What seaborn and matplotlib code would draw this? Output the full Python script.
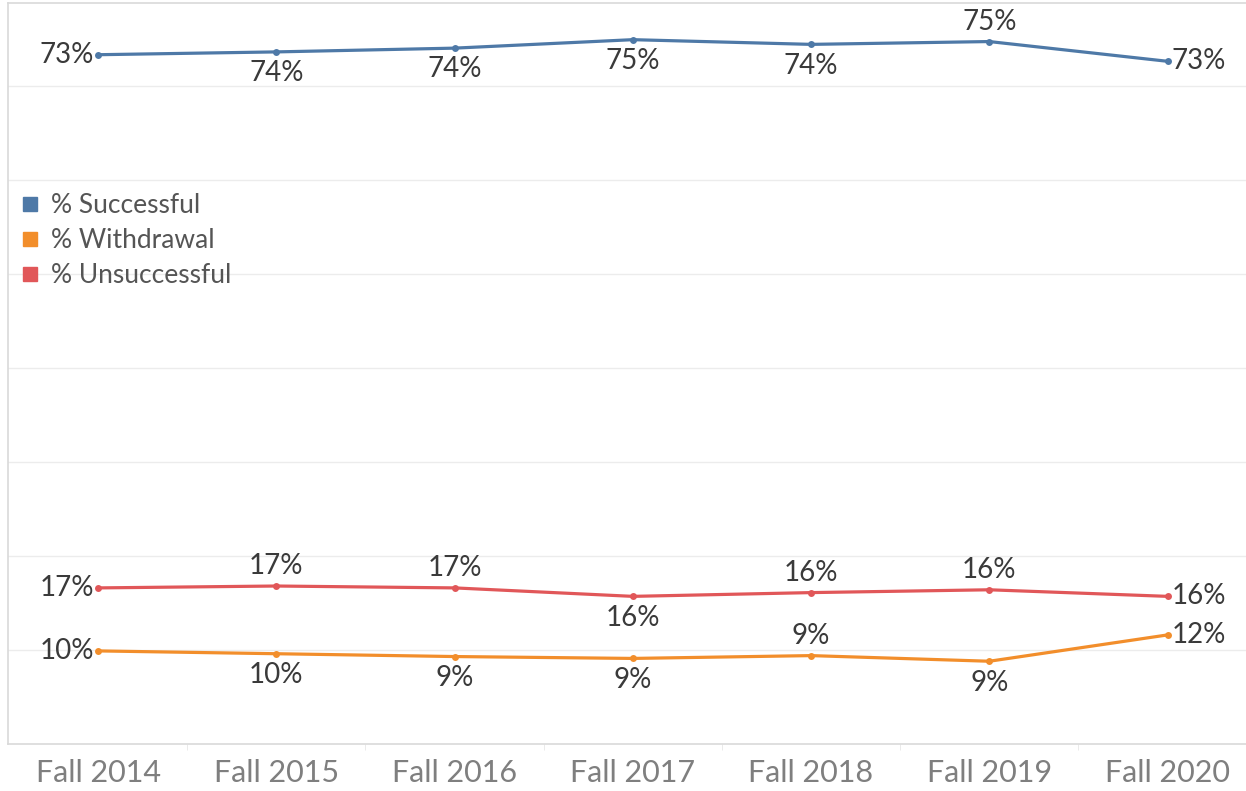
import pandas as pd
import matplotlib.pyplot as plt
import seaborn as sns
from matplotlib.lines import Line2D
from matplotlib.ticker import FixedLocator

terms = ['Fall 2014', 'Fall 2015', 'Fall 2016', 'Fall 2017', 'Fall 2018', 'Fall 2019', 'Fall 2020']
successful = [73.3, 73.6, 74.0, 74.9, 74.4, 74.7, 72.6]
withdrawal = [9.9, 9.6, 9.3, 9.1, 9.4, 8.8, 11.6]
unsuccessful = [16.6, 16.8, 16.6, 15.7, 16.1, 16.4, 15.7]

measures = ['% Successful', '% Withdrawal', '% Unsuccessful']
colors = ['#4e79a7', '#f28e2b', '#e15759']

# where each value label sits: left / below / above / right
label_pos = {
    '% Successful': ['l', 'b', 'b', 'b', 'b', 'a', 'r'],
    '% Withdrawal': ['l', 'b', 'b', 'b', 'a', 'b', 'r'],
    '% Unsuccessful': ['l', 'a', 'a', 'b', 'a', 'a', 'r'],
}

sns.set_style('white')
plt.rcParams['font.family'] = ['Lato', 'DejaVu Sans']

df = pd.DataFrame({
    'term': terms * 3,
    'value': successful + withdrawal + unsuccessful,
    'measure': [m for m in measures for _ in terms],
})

fig = plt.figure(figsize=(12.46, 7.91), dpi=100)
ax = fig.add_axes([8 / 1246, 47 / 791, 1238 / 1246, 741 / 791])

sns.lineplot(data=df, x='term', y='value', hue='measure', palette=colors,
             marker='o', markersize=5, markeredgewidth=0, linewidth=2.3,
             legend=False, ax=ax)

ax.set_xlim(-0.505, 6.44)
ax.set_ylim(0, 78.8)
ax.set_yticks(range(10, 80, 10))
ax.yaxis.grid(True, color='#ececec', linewidth=1)
ax.tick_params(axis='y', left=False, labelleft=False)
ax.tick_params(axis='x', bottom=False, labelsize=22, labelcolor='#7f7f7f', pad=7)
ax.xaxis.set_minor_locator(FixedLocator([i + 0.5 for i in range(6)]))
ax.tick_params(axis='x', which='minor', bottom=True, length=4, color='#e6e6e6')
ax.set_xlabel('')
ax.set_ylabel('')

for side in ['top', 'bottom', 'left']:
    ax.spines[side].set_color('#d9d9d9')
    ax.spines[side].set_linewidth(1.2)
ax.spines['right'].set_visible(False)

offsets = {'l': ((-3, 0), 'right', 'center'),
           'r': ((3, 0), 'left', 'center'),
           'a': ((0, 5), 'center', 'bottom'),
           'b': ((0, -6), 'center', 'top')}
series = {'% Successful': successful, '% Withdrawal': withdrawal, '% Unsuccessful': unsuccessful}
for m in measures:
    for i, v in enumerate(series[m]):
        off, ha, va = offsets[label_pos[m][i]]
        ax.annotate(f'{round(v)}%', (i, v), xytext=off, textcoords='offset points',
                    ha=ha, va=va, fontsize=20, color='#3a3a3a')

handles = [Line2D([], [], marker='s', linestyle='', color=c, markersize=10) for c in colors]
ax.legend(handles, measures, loc='upper left', bbox_to_anchor=(-0.008, 0.768),
          frameon=False, fontsize=19, labelcolor='#555555', handletextpad=0.3,
          labelspacing=0.38, borderaxespad=0.3, handlelength=1.0)

plt.savefig('out.png', dpi=100)
plt.close()
